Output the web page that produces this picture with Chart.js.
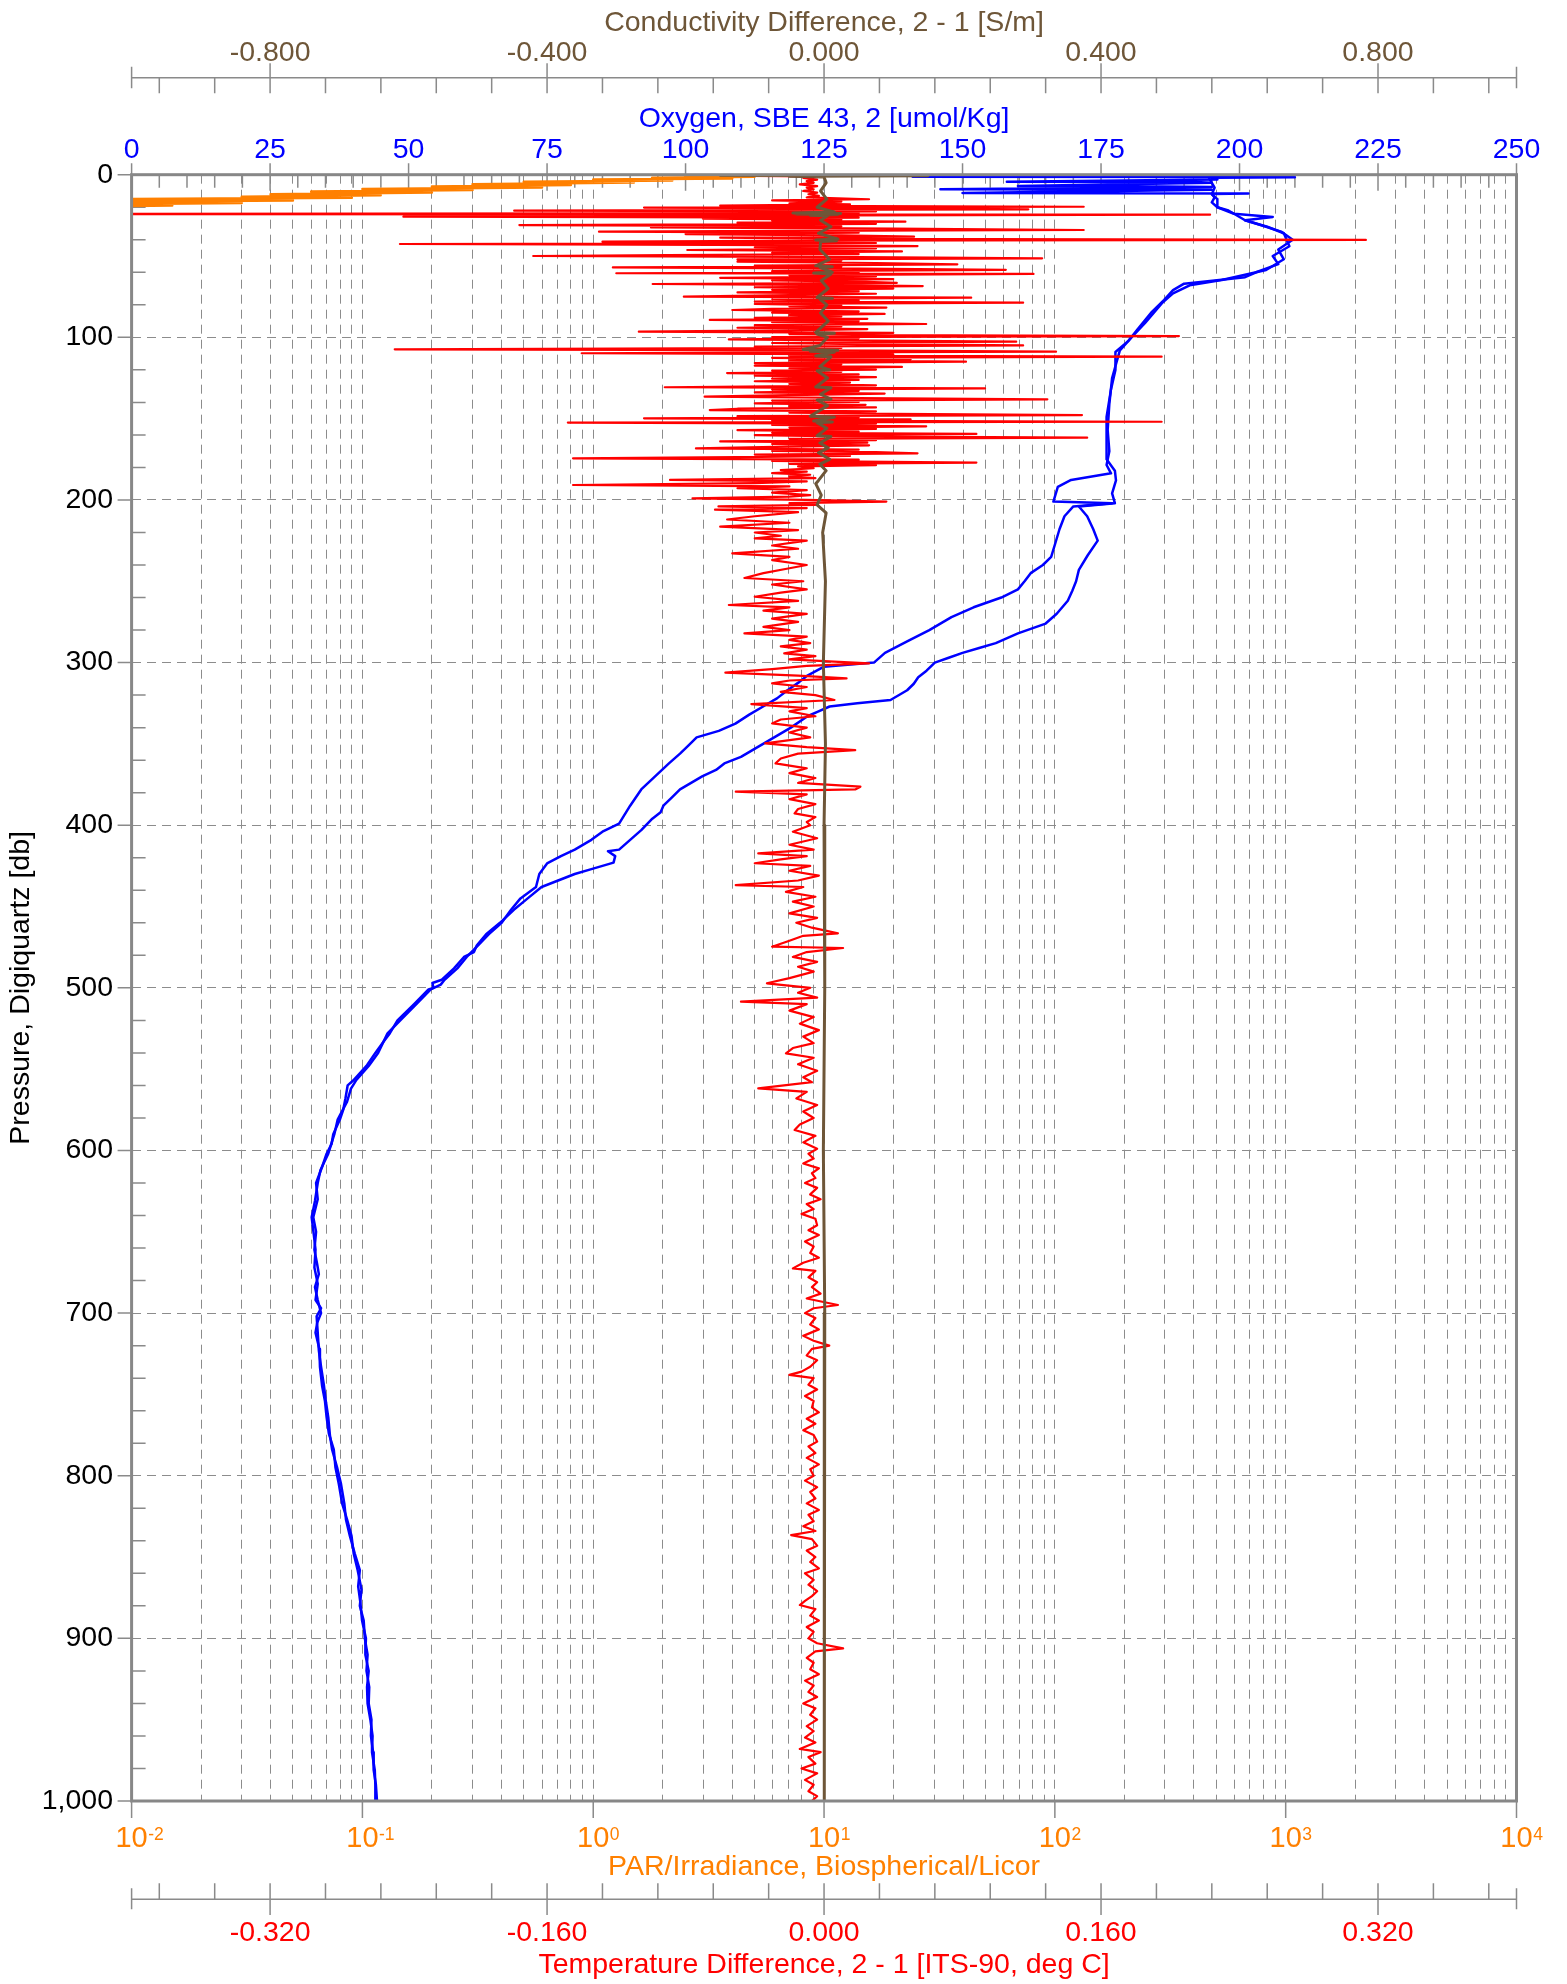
<!DOCTYPE html>
<html>
<head>
<meta charset="utf-8">
<script src="https://cdn.jsdelivr.net/npm/chart.js@4.4.1/dist/chart.umd.min.js"></script>
<style>
html,body{margin:0;padding:0;background:#ffffff;}
canvas{display:block;}
</style>
</head>
<body>
<canvas id="chart" width="1567" height="1984"></canvas>
<script>
// ---------------- DATA (pressure [db], value) ----------------
const pressureTickValues = [0,100,200,300,400,500,600,700,800,900,1000];
const pressureTickLabels = ['0','100','200','300','400','500','600','700','800','900','1,000'];
const oxygenTickValues = [0,25,50,75,100,125,150,175,200,225,250];
const oxygenTickLabels = ['0','25','50','75','100','125','150','175','200','225','250'];
const condTickValues = [-0.8,-0.4,0,0.4,0.8];
const condTickLabels = ['-0.800','-0.400','0.000','0.400','0.800'];
const tempTickValues = [-0.32,-0.16,0,0.16,0.32];
const tempTickLabels = ['-0.320','-0.160','0.000','0.160','0.320'];
const parExponents = [-2,-1,0,1,2,3,4];
const parExponentLabels = ['-2','-1','0','1','2','3','4'];

// Oxygen, SBE 43, 2 [umol/Kg] - trace A
const oxygenA = [[0,195],[1,196],[1.2,141],[1.4,196],[1.6,210],[1.8,195],[3,196],[4.3,158],[4.5,192],[5,195],[7,160],[7.2,186],[7.5,195],[9,146],[9.2,195],[11.3,150],[11.5,201.6],[11.8,195],[14,195.5],[17,195],[20,196],[22,198],[24,199],[26,206],[28,201],[32,205],[36,208],[40,208.5],[44,209],[50,206],[55,207],[60,203],[63,201],[67,190],[71,188],[77,186.4],[85,184],[95,181.6],[102,180],[109,177.6],[120,177.6],[132,176.8],[149,176],[161,176],[175,176],[182,177.5],[188,177.7],[196,177],[202,177.5],[204,171],[210,172.5],[218,173.6],[225,174.4],[234,172.6],[243,171],[250,170.5],[256,169.8],[262,169],[270,167],[276,165],[282,160],[288,156],[291,153],[294,150],[297,147.5],[300,145],[305,143.5],[309,142],[313,141.2],[317,140],[323,137],[325,131],[327,126],[330,124],[333,122],[340,119],[346,116],[352,113],[358,110],[362,107],[366,105.5],[370,103],[374,101],[378,99],[383,97.5],[388,96],[392,95.5],[396,94],[403,92],[409,90],[415,88],[416,86],[419,87.3],[423,87],[427,83],[430,80],[434,77],[438,74],[445,71.5],[452,69],[460,66.5],[467,64],[474,62.3],[478,61.8],[481,60],[488,58.2],[495,56],[497,54.3],[500,54.5],[501,53.6],[510,51],[520,48],[528,46.6],[533,45.5],[540,44],[548,42.4],[557,40],[560,39],[568,38.6],[575,38.2],[581,37.6],[590,36.4],[596,36.1],[602,35.2],[610,34.4],[620,33.3],[630,33.6],[641,32.8],[650,33.3],[661,33],[670,33.5],[676,33.8],[684,33.1],[692,33.6],[700,34.2],[706,33.5],[712,33.2],[722,33.9],[733,34],[745,34.4],[754,34.9],[764,35.2],[774,35.6],[784,36.5],[795,36.8],[805,37.4],[817,38],[827,38.9],[837,39.7],[848,40.1],[858,40.8],[870,41.5],[880,41.2],[889,41.9],[900,42.1],[910,42.6],[920,42.4],[930,42.9],[940,42.8],[950,43.3],[960,43.2],[970,43.6],[981,43.7],[990,44.1],[1000,44.3]];

// Oxygen, SBE 43, 2 [umol/Kg] - trace B
const oxygenB = [[0,195],[2,194.5],[5,195],[8,195.5],[12,195],[15,196],[20,196],[24,199],[28,201],[32,204.8],[35,207.5],[40,209.6],[46,207],[52,208],[58.6,204.8],[64.7,196.8],[68,191],[73,188],[79,186],[91,183],[100,180.5],[108,178.4],[125,177],[141,176.5],[157,176.2],[170,176.5],[178.5,176],[183.6,176.8],[187.7,169.6],[192,167.2],[201,166.4],[202,177],[204,170],[210,168.4],[218,167.5],[226,166.8],[235,166],[240,164.5],[245,162.3],[250,161.2],[255,160],[260,157],[266,152],[272,148],[280,144],[287,140],[294,136],[300,134],[302.5,125],[308,122],[312,120.5],[317,118.4],[322,116.5],[327,114],[332,111.5],[337.5,109],[342,106],[346,102],[351,100.5],[356,99],[362,97],[370,94.5],[378,92],[388,90],[399,88],[404,85],[409,83],[415,80],[419,77.5],[423.5,75],[430,73.6],[438,73],[445,70.2],[452,68.5],[460,66.8],[467,64.5],[474,62.5],[481,60.5],[488,58.8],[495,56.5],[498,55.8],[501,54],[510,51.4],[520,48.5],[528,46.2],[540,44.5],[548,42.8],[557,40.5],[562,39.6],[570,38.9],[581,37.2],[590,36.6],[602,35.5],[612,34.1],[620,33.6],[631,33.1],[641,32.5],[652,32.9],[661,33.2],[672,33.0],[682,33.6],[692,33.2],[697,34.2],[702,33.4],[712,33.6],[723,33.8],[733,34.2],[744,34.7],[755,35.1],[764,35.5],[775,35.8],[784,36.2],[795,37.1],[805,37.8],[817,38.4],[827,38.7],[837,39.4],[848,40.3],[858,41.2],[868,40.9],[878,41.3],[889,41.6],[900,42.3],[910,42.2],[920,42.8],[930,42.5],[940,42.6],[950,43.1],[960,43.5],[970,43.4],[981,43.9],[990,44.0],[1000,44]];

// PAR/Irradiance, Biospherical/Licor
const parIrradiance = [[0.5,9],[0.8,2.5],[1.2,5],[1.8,1.8],[2.3,4],[3.0,1.0],[3.5,2.2],[4.3,0.5],[4.8,1.5],[5.8,0.3],[6.3,0.8],[7.2,0.2],[7.8,0.6],[8.8,0.1],[9.4,0.3],[10.4,0.06],[11.0,0.2],[12.0,0.04],[12.6,0.12],[13.6,0.03],[14.2,0.09],[15.2,0.004],[15.8,0.05],[16.8,0.004],[17.4,0.03],[18.4,0.004],[19.0,0.015],[20.0,0.004],[20.5,0.008]];

// Temperature Difference, 2 - 1 [ITS-90, deg C]
const tempDiff = [[0,-0.004],[0.5,-0.08],[1,-0.005],[2,-0.012],[3,-0.004],[4,-0.01],[5,-0.006],[6,-0.014],[7,-0.004],[8,-0.01],[9,-0.006],[10,-0.012],[11,-0.004],[12,-0.009],[13,-0.003],[14,-0.01],[15.1,0.026],[15.8,-0.03],[16.5,0.01],[17.6,-0.02],[18.3,0.015],[19,-0.06],[19.7,0.15],[20.2,-0.104],[20.8,0.06],[21.3,0.118],[21.7,-0.05],[22.1,-0.179],[22.6,0.03],[23.2,-0.09],[23.6,0.02],[24.2,-0.45],[24.6,0.223],[25.2,-0.06],[25.8,-0.243],[26.4,0.02],[27,-0.07],[27.6,0.01],[28.2,-0.03],[28.9,0.047],[29.5,-0.05],[30.2,0.03],[31,-0.176],[31.7,0.01],[32.4,-0.1],[33.2,0.04],[34,0.15],[34.5,-0.02],[35,-0.13],[35.7,0.02],[36.5,-0.08],[37.3,0.01],[38.1,0.052],[38.7,-0.06],[39.4,0.02],[40.1,0.313],[40.6,-0.03],[41.2,-0.128],[42,0.03],[42.6,-0.245],[43.3,-0.02],[43.9,0.054],[44.6,-0.04],[45.3,0.03],[46.3,-0.079],[47.2,0.045],[48,-0.03],[48.8,0.02],[49.4,-0.09],[50,-0.168],[50.7,0.02],[51.4,0.126],[52.1,-0.05],[52.8,0.01],[53.5,-0.05],[54.3,0.03],[55.1,0.077],[55.9,-0.04],[56.5,0.01],[57,-0.122],[57.8,0.02],[58.5,0.105],[59.3,-0.03],[60,0.02],[60.6,-0.12],[61,0.121],[61.8,-0.02],[62.6,0.03],[63.4,-0.06],[64.2,0.04],[65,-0.03],[65.8,0.02],[66.5,0.042],[67.2,-0.099],[67.9,0.01],[68.5,0.057],[69.2,-0.04],[70,0.04],[70.8,-0.03],[71.6,0.02],[72.4,-0.05],[73.2,0.03],[74,-0.02],[75,-0.081],[75.6,0.085],[76.4,-0.03],[77.2,0.02],[78,-0.04],[78.7,0.115],[79.5,-0.04],[80.3,0.01],[81,-0.02],[81.7,0.036],[82.5,-0.03],[83.2,-0.053],[84,0.02],[84.8,-0.03],[85.6,0.035],[86.4,-0.02],[87.2,0.01],[88,-0.04],[88.6,0.025],[89.3,-0.066],[90,0.02],[90.7,-0.03],[91.8,0.059],[92.5,-0.04],[93.3,0.01],[94.1,-0.05],[94.9,0.025],[95.7,-0.02],[96.5,-0.107],[97.2,0.04],[98,-0.02],[98.6,0.03],[99.2,0.205],[99.9,-0.03],[100.6,0.02],[101.3,-0.055],[102,0.03],[102.7,0.111],[103.5,-0.03],[104.2,0.02],[105,0.115],[105.7,-0.04],[106.5,0.01],[107.4,-0.248],[108.1,0.03],[108.8,0.134],[109.3,-0.02],[109.8,-0.14],[110.5,0.04],[111.2,-0.02],[111.9,0.195],[112.6,-0.03],[113.4,0.05],[114.2,-0.02],[115,0.082],[115.8,-0.04],[116.6,0.01],[117.4,-0.04],[118.2,0.045],[119,-0.02],[119.8,0.03],[120.5,-0.03],[121.2,0.01],[122,-0.056],[122.8,0.02],[123.6,-0.04],[124.5,0.03],[125.4,-0.03],[126.2,0.02],[127,-0.04],[127.8,0.015],[128.6,-0.02],[129.5,0.03],[130.7,-0.092],[131.4,0.093],[132.1,-0.03],[132.9,0.02],[133.8,-0.04],[134.6,0.035],[135.5,-0.02],[136.5,-0.069],[137.3,0.02],[138.1,0.129],[138.9,-0.03],[139.7,0.02],[140.6,-0.04],[141.5,0.024],[142.3,-0.02],[143.1,0.03],[143.9,-0.05],[144.7,-0.066],[145.5,0.03],[146.3,-0.02],[147,0.04],[147.8,0.149],[148.5,-0.05],[149.2,0.02],[149.8,-0.104],[150.5,0.05],[151.2,-0.03],[151.9,0.195],[152.4,-0.148],[153.1,0.03],[153.9,-0.03],[154.7,0.059],[155.5,-0.02],[156.3,0.03],[157.1,-0.05],[157.9,0.02],[158.7,-0.03],[159.4,0.088],[160.1,-0.04],[160.9,0.01],[161.7,0.152],[162.4,-0.02],[163.2,0.03],[164,-0.06],[164.8,0.025],[165.6,-0.03],[166.4,0.026],[167.2,-0.02],[168.3,-0.074],[169.1,0.02],[169.9,-0.03],[170.6,0.03],[171.3,0.054],[172.1,-0.04],[172.9,0.015],[173.6,-0.05],[174.4,-0.145],[175.2,0.02],[176,-0.03],[177,0.088],[177.8,-0.02],[178.6,0.03],[179.4,-0.015],[180.5,-0.006],[181.6,-0.025],[182.6,-0.01],[183.5,-0.03],[184.5,-0.008],[185.5,-0.02],[186.6,-0.005],[187.7,-0.089],[188.6,-0.01],[189.6,-0.04],[190.8,-0.145],[191.7,-0.02],[192.8,-0.05],[194,-0.01],[195.5,-0.03],[197,-0.008],[198,-0.02],[199,-0.076],[200,-0.01],[201,0.036],[202,-0.02],[203,-0.005],[204,-0.061],[205,-0.01],[206,-0.063],[207.5,-0.015],[210,-0.04],[212,-0.056],[214,-0.02],[216.4,-0.06],[218.5,-0.015],[220,-0.04],[222,-0.025],[223.6,-0.04],[225,-0.01],[228,-0.03],[230,-0.015],[232.8,-0.053],[235,-0.02],[237,-0.03],[240,-0.01],[242,-0.02],[245,-0.035],[248,-0.046],[250,-0.012],[252,-0.03],[255,-0.01],[257,-0.025],[259.5,-0.04],[262,-0.015],[264.6,-0.055],[266,-0.02],[268,-0.035],[270,-0.01],[273,-0.03],[275,-0.015],[278,-0.035],[280,-0.02],[282,-0.046],[284,-0.01],[286,-0.02],[288,-0.008],[290,-0.025],[292,-0.01],[294.3,-0.023],[296,-0.005],[298,-0.02],[300.5,0.026],[302,-0.01],[304,-0.03],[306.2,-0.057],[308,-0.015],[309.7,0.013],[311,-0.02],[312.8,-0.03],[315,-0.01],[318,-0.025],[320,-0.005],[323,0.006],[325.5,-0.042],[328,-0.01],[330,-0.02],[333,-0.005],[335,-0.025],[337.4,-0.03],[340,-0.01],[343,-0.02],[346,-0.008],[349.7,-0.034],[352,-0.01],[353.8,0.018],[356,-0.015],[359,-0.025],[362,-0.028],[365,-0.01],[368,-0.02],[371,-0.005],[374,-0.015],[376.3,0.021],[378,0.018],[379.4,-0.051],[381,-0.01],[384,-0.02],[387,-0.005],[390,-0.015],[392.7,-0.017],[395,-0.005],[398,-0.01],[400,-0.008],[404,-0.018],[408,-0.004],[412,-0.02],[415,-0.006],[417.3,-0.038],[419,-0.01],[421,-0.025],[423.4,-0.04],[425,-0.008],[428,-0.02],[431,-0.003],[434,-0.015],[436.8,-0.051],[438,-0.012],[441,-0.022],[444,-0.005],[447,-0.018],[450,-0.006],[454.2,-0.02],[457,-0.004],[460,-0.016],[463,-0.007],[466.5,0.008],[468,-0.012],[471,-0.02],[474.7,-0.03],[475.5,0.011],[478,-0.01],[481,-0.018],[484,-0.004],[487,-0.015],[490,-0.006],[494,-0.02],[497.2,-0.033],[500,-0.008],[503,-0.015],[506,-0.004],[508.5,-0.048],[510,-0.01],[514,-0.02],[518,-0.006],[522,-0.014],[526,-0.003],[530,-0.012],[534,-0.006],[537,-0.018],[540.3,-0.022],[543,-0.006],[547,-0.015],[551,-0.004],[555,-0.012],[558,-0.007],[561.8,-0.038],[564,-0.01],[568,-0.016],[572,-0.004],[576,-0.012],[580,-0.006],[584,-0.014],[587.4,-0.017],[591,-0.005],[595,-0.012],[599,-0.004],[602,-0.009],[605,-0.006],[608,-0.012],[611,-0.003],[614,-0.007],[617,-0.005],[620,-0.011],[623,-0.004],[627,-0.008],[630,-0.002],[633,-0.01],[636,-0.006],[639,-0.013],[642,-0.005],[646,-0.004],[649,-0.009],[652,-0.003],[656,-0.011],[659,-0.006],[663,-0.008],[666,-0.003],[669,-0.012],[672.5,-0.018],[674,-0.005],[678,-0.009],[681,-0.004],[684,-0.007],[688,-0.002],[691,-0.01],[695,0.008],[697,-0.006],[700,-0.011],[703,-0.005],[707,-0.008],[710,-0.003],[714,-0.012],[717,-0.006],[720,0.003],[722,-0.007],[726,-0.01],[729,-0.004],[733,-0.008],[736,-0.013],[738,-0.02],[740,-0.006],[744,-0.009],[747,-0.004],[751,-0.011],[754,-0.006],[758,-0.007],[761,-0.003],[765,-0.01],[768,-0.005],[772,-0.012],[775,-0.006],[779,-0.004],[782,-0.009],[786,-0.005],[789,-0.01],[793,-0.003],[796,-0.008],[800,-0.006],[803,-0.011],[807,-0.004],[810,-0.008],[814,-0.005],[817,-0.01],[821,-0.003],[824,-0.009],[828,-0.006],[831,-0.012],[834,-0.005],[836.5,-0.019],[839,-0.007],[843,-0.004],[846,-0.01],[850,-0.005],[853,-0.008],[857,-0.003],[860,-0.011],[864,-0.006],[867,-0.009],[871,-0.004],[874,-0.007],[877,-0.011],[879.5,-0.014],[882,-0.005],[886,-0.008],[889,-0.003],[893,-0.01],[896,-0.006],[900,-0.009],[903,-0.004],[906.2,0.011],[908,-0.005],[912,-0.01],[915,-0.006],[919,-0.008],[922,-0.003],[926,-0.011],[929,-0.006],[933,-0.009],[936,-0.004],[940,-0.012],[943,-0.005],[947,-0.008],[950,-0.004],[954,-0.01],[957,-0.006],[961,-0.011],[964,-0.005],[968,-0.014],[970,-0.002],[973,-0.009],[977,-0.005],[980,-0.013],[983,-0.004],[987,-0.011],[990,-0.006],[994,-0.009],[997,-0.004],[1000,-0.007]];

// Conductivity Difference, 2 - 1 [S/m]
const condDiff = [[0,0],[0.3,-0.15],[0.6,0.15],[1.0,-0.05],[1.4,0],[5,0.003],[10,-0.005],[15,0.004],[20,-0.01],[23,0.015],[23.6,-0.045],[23.9,0.024],[24.2,-0.04],[24.5,0.02],[24.9,-0.02],[25.3,0.005],[28,-0.005],[32,0.01],[36,-0.008],[39.6,0.02],[40.1,-0.012],[40.6,0.018],[41.1,-0.005],[46,-0.006],[52,0.008],[56,-0.012],[56.6,0.012],[57,-0.006],[60,0.012],[60.5,-0.015],[61,0.01],[65,-0.004],[70,0.006],[75.5,-0.01],[76,0.012],[76.5,-0.006],[80,0.004],[85,-0.005],[90,0.006],[97,-0.012],[97.5,0.015],[98,-0.01],[100,0.005],[105,-0.006],[107.5,-0.03],[108,0.02],[108.5,-0.02],[109,0.015],[111.5,-0.012],[112,0.01],[118,-0.006],[120,0.008],[120.5,-0.01],[125,0.005],[130.5,-0.012],[131,0.01],[135,-0.005],[138,0.01],[138.5,-0.01],[142,0.005],[148.5,-0.02],[149,0.015],[151.5,-0.015],[152,0.012],[152.5,-0.01],[156,0.004],[160.5,-0.01],[161,0.01],[165,-0.006],[168,0.006],[171,-0.008],[175,0.008],[178,-0.006],[182,0.003],[188,-0.008],[190,-0.012],[197,-0.004],[203,-0.01],[208,0.003],[220,-0.002],[250,0.002],[300,-0.001],[350,0.002],[400,0.0],[500,0.001],[600,-0.001],[700,0.001],[800,0],[900,0.001],[1000,0]];

// ---------------- STYLE ----------------
const FONT = "'Liberation Sans', Arial, sans-serif";
const FS = 28.5;
const BLUE = '#0000ff', ORANGE = '#ff8000', RED = '#ff0000', BROWN = '#6e5638';
const GRID = '#8c8c8c', FRAME = '#878787', TICK = '#8a8a8a';

Chart.defaults.font.family = FONT;

const toXY = arr => arr.map(([p, v]) => ({x: v, y: p}));

// PAR grid line values (1..9 x each decade)
const parGrid = [];
for (let e = -2; e < 4; e++) for (let k = 1; k <= 9; k++) parGrid.push(k * Math.pow(10, e));
parGrid.push(10000);

const decor = {
  id: 'decor',
  beforeDatasetsDraw(chart) {
    const {ctx, chartArea: a, scales: {y, xO}} = chart;
    ctx.save();
    ctx.strokeStyle = TICK; ctx.lineWidth = 1.5;
    ctx.beginPath();
    for (let v = 20; v < 1000; v += 20) {
      if (v % 100 === 0) continue;
      const py = y.getPixelForValue(v);
      ctx.moveTo(a.left, py); ctx.lineTo(a.left + 14, py);
    }
    for (let v = 0; v <= 250; v += 5) {
      const px = xO.getPixelForValue(v);
      if (v % 25 === 0) { ctx.moveTo(px, a.top - 11.5); ctx.lineTo(px, a.top + 16); }
      else { ctx.moveTo(px, a.top); ctx.lineTo(px, a.top + 13); }
    }
    ctx.stroke();
    ctx.restore();
  },
  afterDraw(chart) {
    const {ctx, chartArea: a, scales: {y, xP, xC, xT}} = chart;
    ctx.save();
    ctx.strokeStyle = FRAME; ctx.lineWidth = 3;
    ctx.strokeRect(a.left, a.top, a.right - a.left, a.bottom - a.top);
    ctx.strokeStyle = TICK; ctx.lineWidth = 1.5;
    ctx.beginPath();
    pressureTickValues.forEach(v => { const py = y.getPixelForValue(v); ctx.moveTo(a.left - 14, py); ctx.lineTo(a.left, py); });
    parExponents.forEach(e => { const px = xP.getPixelForValue(Math.pow(10, e)); ctx.moveTo(px, a.bottom); ctx.lineTo(px, a.bottom + 17); });
    // conductivity detached axis
    const cy = xC.bottom - 12.3;
    ctx.moveTo(a.left, cy); ctx.lineTo(a.right, cy);
    ctx.moveTo(a.left, cy - 11); ctx.lineTo(a.left, cy + 10.6);
    ctx.moveTo(a.right, cy - 11); ctx.lineTo(a.right, cy + 10.6);
    for (let k = -12; k <= 12; k++) {
      const px = xC.getPixelForValue(k * 0.08);
      if (k % 5 === 0) { ctx.moveTo(px, cy - 14.4); ctx.lineTo(px, cy + 15.6); }
      else { ctx.moveTo(px, cy); ctx.lineTo(px, cy + 15.6); }
    }
    // temperature detached axis
    const ty = xT.top + 10.3;
    ctx.moveTo(a.left, ty); ctx.lineTo(a.right, ty);
    ctx.moveTo(a.left, ty - 11); ctx.lineTo(a.left, ty + 10);
    ctx.moveTo(a.right, ty - 11); ctx.lineTo(a.right, ty + 10);
    for (let k = -12; k <= 12; k++) {
      const px = xT.getPixelForValue(k * 0.032);
      if (k % 5 === 0) { ctx.moveTo(px, ty - 16); ctx.lineTo(px, ty + 15.7); }
      else { ctx.moveTo(px, ty - 16); ctx.lineTo(px, ty); }
    }
    ctx.stroke();
    // PAR decade labels with superscript exponents
    ctx.fillStyle = ORANGE; ctx.textBaseline = 'alphabetic';
    parExponents.forEach((e, i) => {
      const px = xP.getPixelForValue(Math.pow(10, e));
      ctx.font = '29px ' + FONT; ctx.textAlign = 'center';
      ctx.fillText('10', px, a.bottom + 46.3);
      const w = ctx.measureText('10').width;
      ctx.font = '17.5px ' + FONT; ctx.textAlign = 'left';
      ctx.fillText(parExponentLabels[i], px + w / 2 + 0.5, a.bottom + 39);
    });
    ctx.restore();
  }
};

const lineDs = (label, data, axis, color, width, order) => ({
  label, data: toXY(data), xAxisID: axis, yAxisID: 'y',
  borderColor: color, backgroundColor: color, borderWidth: width,
  pointRadius: 0, showLine: true, tension: 0, fill: false,
  borderJoinStyle: 'round', order
});

new Chart(document.getElementById('chart'), {
  type: 'scatter',
  data: {
    datasets: [
      lineDs('Conductivity Difference, 2 - 1 [S/m]', condDiff, 'xC', BROWN, 3, 0),
      lineDs('PAR/Irradiance, Biospherical/Licor', parIrradiance, 'xP', ORANGE, 2.5, 1),
      lineDs('Temperature Difference, 2 - 1 [ITS-90, deg C]', tempDiff, 'xT', RED, 2.2, 2),
      lineDs('Oxygen, SBE 43, 2 [umol/Kg]', oxygenA, 'xO', BLUE, 2.5, 3),
      lineDs('Oxygen, SBE 43, 2 [umol/Kg] (2)', oxygenB, 'xO', BLUE, 2.5, 3)
    ]
  },
  options: {
    responsive: false, maintainAspectRatio: false, animation: false, devicePixelRatio: 1,
    events: [],
    layout: { padding: { left: 0, right: 50.5, top: 0, bottom: 0 } },
    plugins: { legend: { display: false }, tooltip: { enabled: false } },
    scales: {
      y: {
        type: 'linear', position: 'left', reverse: true, min: 0, max: 1000,
        afterFit: s => { s.width = 131.6; },
        afterBuildTicks: s => { s.ticks = pressureTickValues.map(v => ({ value: v })); },
        ticks: { callback: (v, i) => pressureTickLabels[i], color: '#000000', font: { size: FS }, padding: 18.6, autoSkip: false },
        grid: { color: GRID, lineWidth: 1, drawTicks: false, drawOnChartArea: true },
        border: { display: false, dash: [9, 6] },
        title: { display: true, text: 'Pressure, Digiquartz [db]', color: '#000000', font: { size: FS }, padding: { top: 4.4, bottom: 0 } }
      },
      xO: {
        type: 'linear', position: 'top', weight: 0, min: 0, max: 250,
        afterFit: s => { s.height = 84.7; },
        afterBuildTicks: s => { s.ticks = oxygenTickValues.map(v => ({ value: v })); },
        ticks: { callback: (v, i) => oxygenTickLabels[i], color: BLUE, font: { size: FS }, padding: 7.6, maxRotation: 0, autoSkip: false },
        grid: { display: false, drawTicks: false, drawOnChartArea: false },
        border: { display: false },
        title: { display: true, text: 'Oxygen, SBE 43, 2 [umol/Kg]', color: BLUE, font: { size: FS }, padding: { top: 12.2, bottom: 0 } }
      },
      xC: {
        type: 'linear', position: 'top', weight: 1, min: -1, max: 1,
        afterFit: s => { s.height = 90; },
        afterBuildTicks: s => { s.ticks = condTickValues.map(v => ({ value: v })); },
        ticks: { callback: (v, i) => condTickLabels[i], color: BROWN, font: { size: FS }, padding: 19.9, maxRotation: 0, autoSkip: false },
        grid: { display: false, drawTicks: false, drawOnChartArea: false },
        border: { display: false },
        title: { display: true, text: 'Conductivity Difference, 2 - 1 [S/m]', color: BROWN, font: { size: FS }, padding: { top: 6.1, bottom: 0 } }
      },
      xP: {
        type: 'logarithmic', position: 'bottom', weight: 0, min: 0.01, max: 10000,
        afterFit: s => { s.height = 88; },
        afterBuildTicks: s => { s.ticks = parGrid.map(v => ({ value: v })); },
        ticks: { display: false, autoSkip: false },
        grid: { display: true, color: GRID, lineWidth: 1, drawTicks: false, drawOnChartArea: true },
        border: { display: false, dash: [9, 6] },
        title: { display: true, text: 'PAR/Irradiance, Biospherical/Licor', color: ORANGE, font: { size: FS }, padding: { top: 0, bottom: 4.9 } }
      },
      xT: {
        type: 'linear', position: 'bottom', weight: 1, min: -0.4, max: 0.4,
        afterFit: s => { s.height = 95; },
        afterBuildTicks: s => { s.ticks = tempTickValues.map(v => ({ value: v })); },
        ticks: { callback: (v, i) => tempTickLabels[i], color: RED, font: { size: FS }, padding: 26.9, maxRotation: 0, autoSkip: false },
        grid: { display: false, drawTicks: false, drawOnChartArea: false },
        border: { display: false },
        title: { display: true, text: 'Temperature Difference, 2 - 1 [ITS-90, deg C]', color: RED, font: { size: FS }, padding: { top: 0, bottom: 1.9 } }
      }
    }
  },
  plugins: [decor]
});
</script>
</body>
</html>
